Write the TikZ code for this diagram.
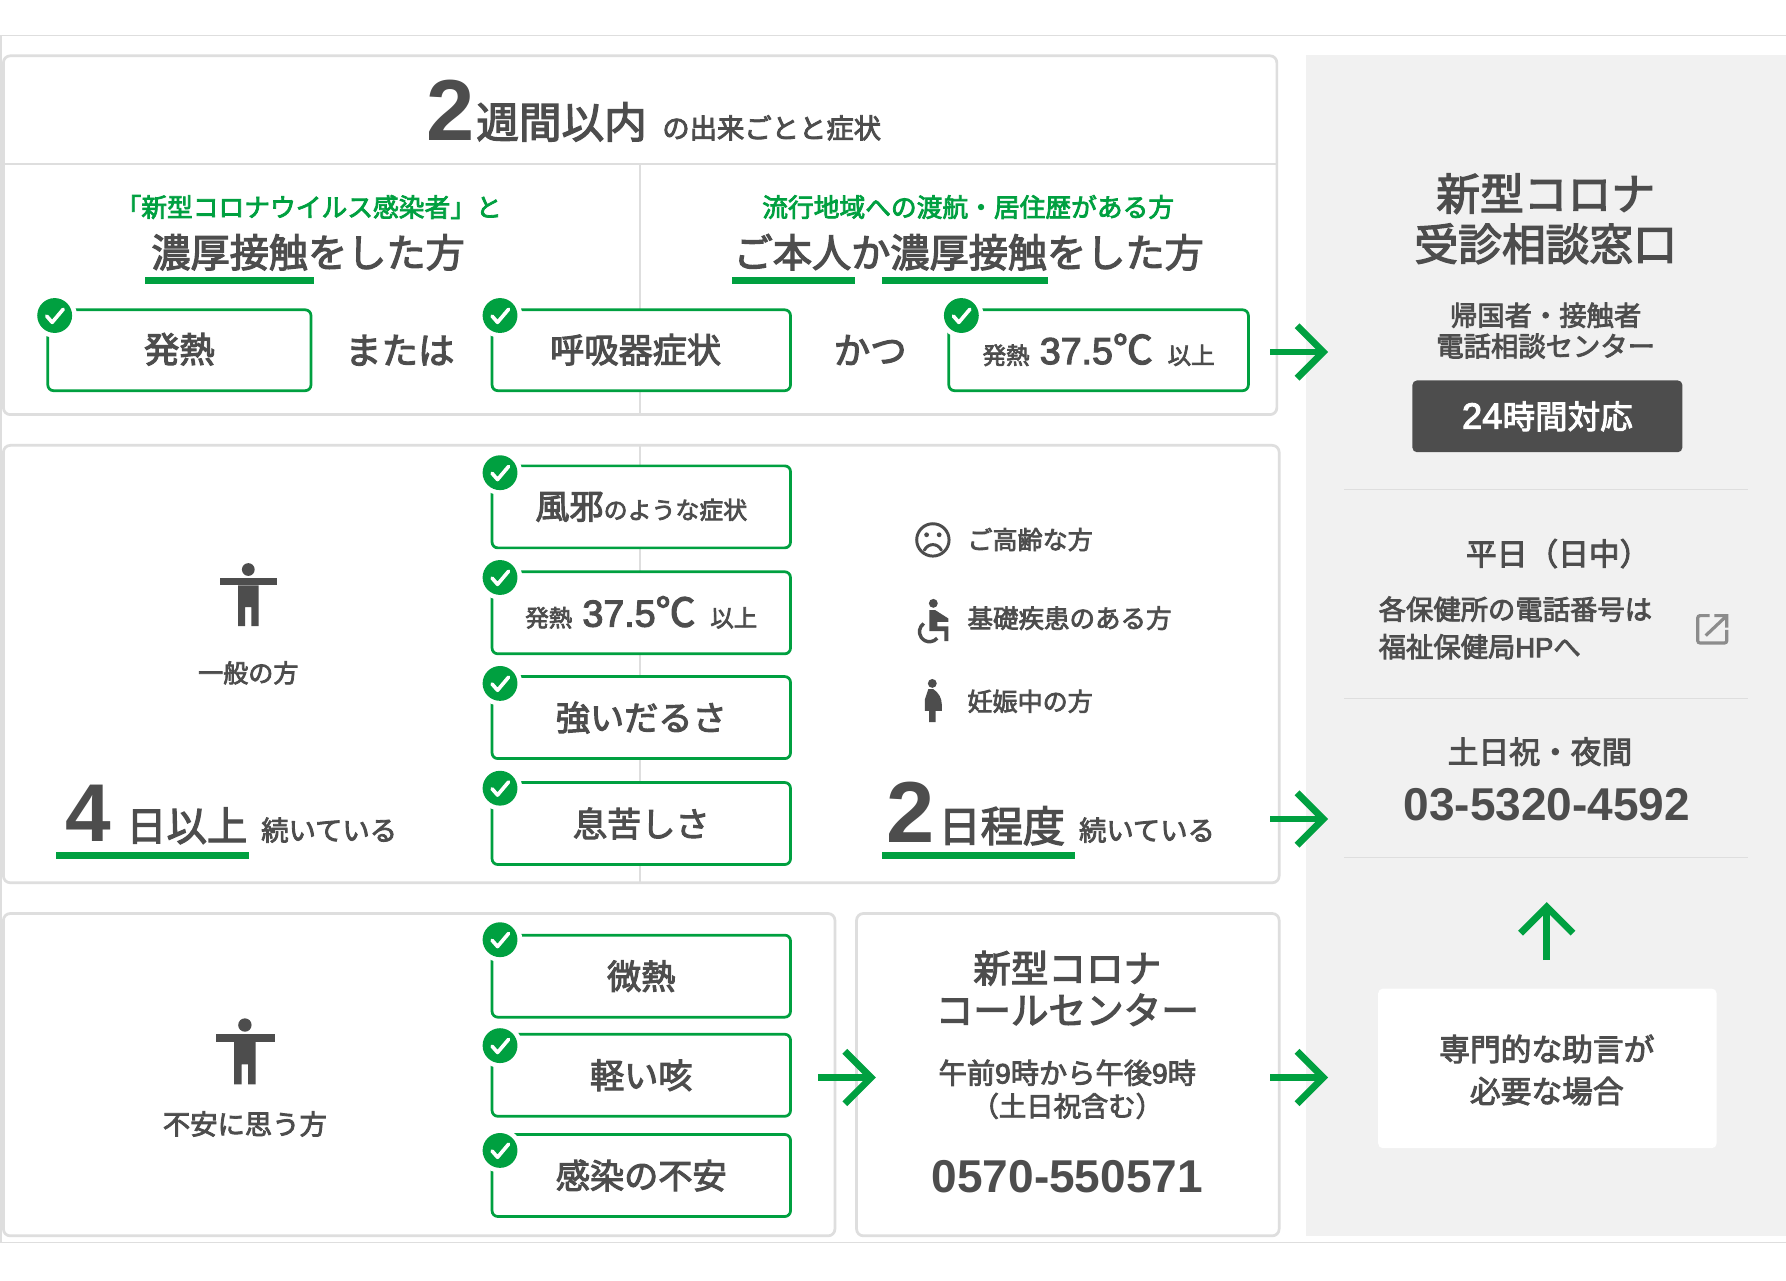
\documentclass[tikz,border=0pt]{standalone}
\usepackage{fontspec}
\usetikzlibrary{arrows.meta}
\setmainfont{Noto Sans CJK JP}[FakeBold=3]
\newfontfamily\latm{Liberation Sans}[FakeBold=3]
\newfontfamily\latb{Liberation Sans}
\newcommand\fs[1]{\fontsize{#1pt}{#1pt}\selectfont}
\newcommand\bignum[2]{{\latb\bfseries\fs{#1}#2}}
\newcommand\midnum[2]{{\latm\fs{#1}#2}}
\newcommand\ems{\rule[-.12em]{0pt}{1em}}
\definecolor{ink}{HTML}{4D4D4D}
\definecolor{grn}{HTML}{00A040}
\definecolor{rim}{HTML}{DEDEDE}
\definecolor{panel}{HTML}{F1F1F1}
\definecolor{linkgrey}{HTML}{8C8C8C}
\tikzset{
  txt/.style={inner sep=0pt,text=ink,anchor=center,execute at begin node={\ems}},
  txtl/.style={txt,anchor=west},
  card/.style={draw=rim,line width=1.2pt,rounded corners=3pt,fill=white},
  rule/.style={draw=rim,line width=.6pt},
  gbox/.style={txt,draw=grn,fill=white,line width=1.2pt,rounded corners=2.5pt,inner sep=0pt},
  flow/.style={draw=grn,line width=3pt,-{Straight Barb[length=11.5pt,width=23pt,line width=3pt]}},
  under/.style={fill=grn},
  person/.pic={
    \fill[ink] (0,-22) circle (5.6);
    \fill[ink] (-24.5,-14.5) rectangle (25,-8);
    \fill[ink] (-9,-8) -- (9,-8) -- (9,27.6) -- (2.7,27.6) -- (2.7,11) -- (-2.7,11) -- (-2.7,27.6) -- (-9,27.6) -- cycle;
  },
  tick/.pic={
    \fill[white] (0,0) circle (19.5);
    \fill[grn] (0,0) circle (15.3);
    \draw[white,line width=1.6pt,line cap=round,line join=round] (-7,0.5) -- (-2.2,6) -- (7.5,-5.5);
  },
}
\begin{document}
\begin{tikzpicture}[x=0.5pt,y=-0.5pt]
\useasboundingbox (0,0) rectangle (1568,1123.8);
\fill[white] (0,0) rectangle (1568,1123.8);
% outer frame
\draw[rule] (1568,31) -- (1,31) -- (1,1091) -- (1568,1091);
% right panel
\fill[panel] (1147,48) rectangle (1568,1085);
% cards
\draw[card] (3,49) rectangle (1121,364);
\draw[rule] (3,144) -- (1121,144);
\draw[rule] (562,144) -- (562,364);
\draw[card] (3,391) rectangle (1123,775);
\draw[rule] (562,391) -- (562,775);
\draw[card] (3,802) rectangle (733,1085);
\draw[card] (752,802) rectangle (1123,1085);

% header
\node[txt,anchor=base west] (two) at (374,123) {\bignum{38}{2}};
\node[txt] (weeks) at (493,107) {\fs{18.7}週間以内};
\node[txt] (events) at (677.5,112.5) {\fs{12}の出来ごとと症状};

% case columns
\node[txt,text=grn] (caseA) at (271,182) {\fs{11.3}「新型コロナウイルス感染者」と};
\node[txt,text=grn] (caseB) at (850,182) {\fs{11.3}流行地域への渡航・居住歴がある方};
\node[txt] (contactA) at (270.5,221.5) {\fs{17.2}濃厚接触をした方};
\node[txt] (contactB) at (850.5,221.5) {\fs{17.2}ご本人か濃厚接触をした方};
\fill[under] (127.5,243) rectangle (276,249);
\fill[under] (643,243) rectangle (751,249);
\fill[under] (774,243) rectangle (920,249);

\node[gbox,minimum width=115.5pt,minimum height=35.5pt] (fever) at (157.5,307.5) {\fs{15.5}\raisebox{1pt}{発熱}};
\node[txt] (or) at (351,308) {\fs{16}または};
\node[gbox,minimum width=131pt,minimum height=35.5pt] (resp) at (563,307.5) {\fs{15}\raisebox{.5pt}{呼吸器症状}\hspace*{5pt}};
\node[txt] (and) at (764,308) {\fs{16}かつ};
\node[gbox,minimum width=131.5pt,minimum height=35.5pt] (temp) at (964.5,307.5) {\fs{10.3}発熱\hspace{4.5pt}\midnum{16.5}{37.5}\fs{17.5}℃\hspace{6.5pt}\fs{10.3}以上};
\pic at (48,277) {tick};
\pic at (439,277) {tick};
\pic at (844,277) {tick};

% general
\pic at (218,522) {person};
\node[txt] (general) at (218,591) {\fs{11}一般の方};
\node[txt,anchor=base west] (four) at (57,739) {\bignum{36}{4}};
\node[txt] (fourdays) at (164,725) {\fs{17.7}日以上};
\node[txt] (contA) at (289,729) {\fs{12}続いている};
\fill[under] (49,748) rectangle (219,754);

\node[gbox,minimum width=131pt,minimum height=36pt] (cold) at (563,445) {\fs{15}風邪\fs{10.5}のような症状};
\node[gbox,minimum width=131pt,minimum height=36pt] (temp2) at (563,538) {\fs{10.3}発熱\hspace{4.5pt}\midnum{16.5}{37.5}\fs{17.5}℃\hspace{6.5pt}\fs{10.3}以上};
\node[gbox,minimum width=131pt,minimum height=36pt] (tired) at (563,630) {\fs{15}強いだるさ};
\node[gbox,minimum width=131pt,minimum height=36pt] (breath) at (563,723) {\fs{15}息苦しさ};
\pic at (439,415) {tick};
\pic at (439,507) {tick};
\pic at (439,600) {tick};
\pic at (439,692) {tick};

% risk groups
\draw[ink,line width=1.3pt] (819,474) circle (14.2);
\fill[ink] (813.5,469.5) circle (2.1) (824.5,469.5) circle (2.1);
\draw[ink,line width=1.3pt,line cap=round] (811.5,483) .. controls (815,476.5) and (823,476.5) .. (826.5,483);
\node[txtl] (elder) at (849,474) {\fs{11}ご高齢な方};
\fill[ink] (819.4,529.7) circle (3.9);
\fill[ink] (816,535.6) -- (821,535.6) -- (832.6,543) -- (832.6,546) -- (823,546) -- (823,550) -- (832.6,550) -- (832.6,562.8) -- (829,562.8) -- (829,554) -- (816,554) -- cycle;
\draw[ink,line width=1.5pt] (811,547.4) arc[start angle=235,end angle=40,radius=8.8];
\node[txtl] (disease) at (849,543) {\fs{11.2}基礎疾患のある方};
\fill[ink] (818.5,600) circle (3.9);
\fill[ink] (815,605) -- (819.4,605) .. controls (824,608) and (826.8,613) .. (826.8,618) -- (826.8,624) -- (821.5,624) -- (821.5,634) -- (815.6,634) -- (815.6,624) -- (812,624) -- (812,614) -- cycle;
\node[txtl] (preg) at (849,616) {\fs{11}妊娠中の方};
\node[txt,anchor=base west] (twob) at (778,740) {\bignum{38}{2}};
\node[txt] (twodays) at (879.5,725) {\fs{18.5}日程度};
\node[txt] (contB) at (1007,729) {\fs{12}続いている};
\fill[under] (774,748) rectangle (944,754);

% anxious
\pic[scale=1.05] at (215,923) {person};
\node[txt] (anx) at (215,987) {\fs{12}不安に思う方};
\node[gbox,minimum width=131pt,minimum height=36pt] (mild) at (563,857) {\fs{15}微熱};
\node[gbox,minimum width=131pt,minimum height=36pt] (cough) at (563,944) {\fs{15}軽い咳};
\node[gbox,minimum width=131pt,minimum height=36pt] (worry) at (563,1032) {\fs{15}感染の不安};
\pic at (439,825) {tick};
\pic at (439,918) {tick};
\pic at (439,1010) {tick};

% call centre
\node[txt] (cc1) at (937,850) {\fs{16.5}新型コロナ};
\node[txt] (cc2) at (937,887) {\fs{16.5}コールセンター};
\node[txt] (cc3) at (937,942) {\fs{12.4}午前\midnum{12.4}{9}時から午後\midnum{12.4}{9}時};
\node[txt] (cc4) at (937,971) {\fs{12}（土日祝含む）};
\node[txt] (cc5) at (937,1034) {\bignum{20.2}{0570-550571}};

% consultation panel
\node[txt] (p1) at (1357,170) {\fs{19.2}新型コロナ};
\node[txt] (p2) at (1357,214) {\fs{19.2}受診相談窓口};
\node[txt] (p3) at (1357,277) {\fs{12}帰国者・接触者};
\node[txt] (p4) at (1357,304) {\fs{12}電話相談センター};
\node[txt,fill=ink,text=white,rounded corners=2pt,minimum width=118.5pt,minimum height=31.5pt] (p5) at (1358.5,365.5) {\midnum{16}{24}\fs{14.3}時間対応};
\draw[rule] (1180,430) -- (1535,430);
\node[txt] (p6) at (1368,486) {\fs{13.5}平日（日中）};
\node[txtl] (p7) at (1210,535) {\fs{12}各保健所の電話番号は};
\node[txtl] (p8) at (1210,568) {\fs{12}福祉保健局\midnum{12}{HP}へ};
\draw[rule] (1180,613) -- (1535,613);
\node[txt] (p9) at (1352,660) {\fs{13.5}土日祝・夜間};
\node[txt] (p10) at (1358,707) {\bignum{20.2}{03-5320-4592}};
\draw[rule] (1180,753) -- (1535,753);
\node[txt,fill=white,rounded corners=2pt,minimum width=148.5pt,minimum height=70pt] (p11) at (1358.5,938) {};
\node[txt] (p12) at (1358,921) {\fs{13.5}専門的な助言が};
\node[txt] (p13) at (1358,958) {\fs{13.5}必要な場合};
% external link icon
\draw[draw=linkgrey,line width=1.4pt,rounded corners=1pt] (1501,540.5) -- (1490.5,540.5) -- (1490.5,564.5) -- (1516,564.5) -- (1516,553);
\draw[draw=linkgrey,line width=1.4pt] (1497.5,558) -- (1515.5,541) (1505,540.5) -- (1516,540.5) -- (1516,551);

% arrows
\coordinate (a1s) at (1115,309); \coordinate (a1e) at (1166,309);
\coordinate (a2s) at (1115,719); \coordinate (a2e) at (1166,719);
\coordinate (a3s) at (1115,946); \coordinate (a3e) at (1166,946);
\coordinate (a4s) at (718,946);  \coordinate (a4e) at (769,946);
\coordinate (a5s) at (1358,843); \coordinate (a5e) at (1358,792);
\draw[flow] (a1s) -- (a1e);
\draw[flow] (a2s) -- (a2e);
\draw[flow] (a3s) -- (a3e);
\draw[flow] (a4s) -- (a4e);
\draw[flow] (a5s) -- (a5e);
\end{tikzpicture}
\end{document}
